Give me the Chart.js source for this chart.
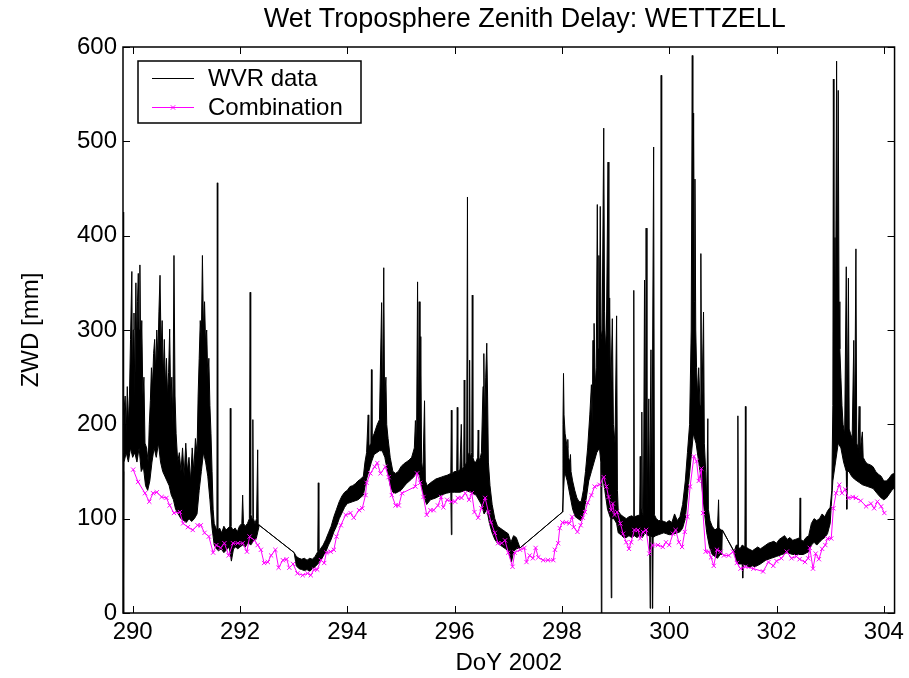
<!DOCTYPE html>
<html><head><meta charset="utf-8">
<script src="https://cdn.jsdelivr.net/npm/chart.js@4.4.1/dist/chart.umd.min.js"></script>
<style>html,body{margin:0;padding:0;background:#fff}canvas{display:block}</style>
</head><body>
<canvas id="c" width="909" height="678"></canvas>
<script>
const chartTitle = 'Wet Troposphere Zenith Delay: WETTZELL';
const xAxisLabel = 'DoY 2002';
const yAxisLabel = 'ZWD [mm]';
const seriesNames = ['WVR data', 'Combination'];
const xTicks = [290, 292, 294, 296, 298, 300, 302, 304];
const yTicks = [0, 100, 200, 300, 400, 500, 600];
const xRange = [289.82, 304.2];
const yRange = [0, 600];

// WVR data: upper edge of the noisy band (with spikes), [day, mm]
const wvrUpper = [
[289.820,170],[289.828,425],[289.836,210],[289.860,230],[289.880,190],[289.900,240],[289.920,200],[289.940,230],[289.960,290],[289.985,362],[289.995,250],[290.010,300],[290.025,318],[290.040,230],[290.060,350],[290.075,280],[290.090,330],[290.105,360],[290.120,300],[290.135,369],[290.150,270],[290.170,310],[290.190,230],[290.210,250],[290.230,180],[290.260,175],[290.290,160],[290.310,200],[290.330,225],[290.350,260],[290.370,240],[290.390,275],[290.410,290],[290.430,255],[290.450,300],[290.470,270],[290.490,320],[290.510,358],[290.530,280],[290.550,310],[290.570,250],[290.590,290],[290.610,240],[290.630,270],[290.650,230],[290.670,255],[290.690,301],[290.710,220],[290.730,250],[290.750,200],[290.770,379],[290.790,230],[290.810,190],[290.840,160],[290.870,170],[290.900,150],[290.930,175],[290.960,145],[290.990,180],[291.020,150],[291.050,165],[291.080,140],[291.110,175],[291.140,150],[291.170,185],[291.200,170],[291.220,230],[291.240,270],[291.260,310],[291.280,290],[291.300,379],[291.320,300],[291.340,330],[291.360,285],[291.380,300],[291.400,250],[291.420,270],[291.440,220],[291.460,190],[291.480,150],[291.500,110],[291.520,95],[291.550,90],[291.570,88],[291.578,456],[291.586,88],[291.620,90],[291.660,85],[291.700,92],[291.740,88],[291.780,90],[291.810,92],[291.820,217],[291.830,92],[291.870,88],[291.910,90],[291.950,86],[291.990,92],[292.035,95],[292.050,125],[292.065,95],[292.100,92],[292.140,95],[292.175,100],[292.190,340],[292.200,105],[292.225,100],[292.240,205],[292.250,100],[292.280,95],[292.310,100],[292.330,173],[292.340,95],[292.360,93],
[293.010,64],[293.050,60],[293.100,58],[293.150,57],[293.200,58],[293.250,56],[293.300,58],[293.350,57],[293.400,60],[293.450,65],[293.460,138],[293.470,65],[293.500,68],[293.550,72],[293.600,78],[293.650,85],[293.700,92],[293.750,102],[293.800,110],[293.850,118],[293.900,124],[293.950,128],[294.000,130],[294.050,134],[294.100,135],[294.150,137],[294.200,140],[294.250,142],[294.300,145],[294.330,160],[294.360,170],[294.390,210],[294.400,175],[294.440,180],[294.450,258],[294.460,185],[294.500,190],[294.530,195],[294.560,200],[294.600,205],[294.640,329],[294.655,215],[294.680,366],[294.695,225],[294.720,250],[294.735,200],[294.760,185],[294.800,165],[294.850,150],[294.900,148],[294.950,150],[295.000,155],[295.050,158],[295.100,160],[295.150,162],[295.200,165],[295.250,175],[295.270,204],[295.290,170],[295.310,351],[295.325,180],[295.340,330],[295.355,170],[295.370,293],[295.385,160],[295.410,150],[295.440,225],[295.455,140],[295.490,135],[295.550,138],[295.600,140],[295.650,142],[295.700,143],[295.750,144],[295.800,145],[295.860,146],[295.930,148],[295.940,215],[295.950,148],[296.000,150],[296.040,150],[296.050,218],[296.060,150],[296.100,152],[296.125,200],[296.140,152],[296.170,155],[296.180,247],[296.190,155],[296.225,160],[296.240,441],[296.250,165],[296.270,170],[296.280,268],[296.290,165],[296.320,170],[296.330,337],[296.340,165],[296.370,160],[296.400,160],[296.430,165],[296.440,194],[296.450,160],[296.480,165],[296.500,170],[296.530,240],[296.545,275],[296.560,200],[296.580,250],[296.600,286],[296.615,230],[296.630,160],[296.660,135],[296.700,115],[296.750,100],[296.800,92],[296.850,90],[296.900,88],[296.950,86],[297.000,84],[297.050,75],[297.100,82],[297.150,80],[297.220,69],
[298.010,107],[298.020,200],[298.030,254],[298.040,210],[298.060,190],[298.100,175],[298.110,184],[298.120,165],[298.150,160],[298.160,168],[298.170,150],[298.200,140],[298.240,130],[298.280,122],[298.320,118],[298.360,118],[298.400,130],[298.440,150],[298.480,175],[298.520,210],[298.550,242],[298.565,200],[298.580,289],[298.590,220],[298.600,307],[298.620,240],[298.640,260],[298.660,433],[298.675,280],[298.690,379],[298.700,300],[298.715,431],[298.730,290],[298.750,300],[298.780,514],[298.795,320],[298.810,280],[298.830,300],[298.860,478],[298.875,250],[298.890,334],[298.910,230],[298.940,312],[298.960,200],[298.990,180],[299.020,315],[299.035,130],[299.050,108],[299.100,104],[299.150,102],[299.200,100],[299.250,102],[299.300,103],[299.330,102],[299.340,342],[299.350,102],[299.400,103],[299.450,104],[299.460,166],[299.470,104],[299.480,110],[299.490,213],[299.500,106],[299.520,103],[299.540,353],[299.555,106],[299.570,408],[299.585,106],[299.620,227],[299.635,102],[299.660,279],[299.675,102],[299.710,494],[299.725,104],[299.760,100],[299.800,98],[299.840,98],[299.850,570],[299.860,98],[299.900,97],[299.950,96],[300.000,98],[300.050,96],[300.100,105],[300.150,98],[300.200,102],[300.250,115],[300.300,140],[300.340,170],[300.380,200],[300.410,300],[300.430,591],[300.440,350],[300.455,530],[300.470,330],[300.480,460],[300.495,300],[300.510,260],[300.530,230],[300.550,260],[300.575,220],[300.590,381],[300.605,210],[300.640,319],[300.655,180],[300.680,150],[300.700,120],[300.720,206],[300.730,110],[300.760,98],[300.800,92],[300.850,88],[300.900,90],[300.920,120],[300.930,90],[300.970,88],[300.990,88],
[301.210,65],[301.250,72],[301.270,72],[301.280,209],[301.290,70],[301.320,68],[301.360,72],[301.410,70],[301.420,219],[301.430,70],[301.480,68],[301.550,66],[301.600,68],[301.650,70],[301.700,68],[301.750,70],[301.800,72],[301.850,74],[301.900,75],[301.950,76],[302.000,74],[302.050,78],[302.100,80],[302.150,82],[302.200,78],[302.250,80],[302.300,77],[302.350,78],[302.400,79],[302.430,80],[302.440,122],[302.450,78],[302.500,76],[302.550,80],[302.600,82],[302.650,95],[302.700,100],[302.750,98],[302.800,100],[302.850,105],[302.900,102],[302.950,108],[303.000,112],[303.030,130],[303.050,220],[303.060,566],[303.070,300],[303.090,398],[303.100,300],[303.120,585],[303.135,350],[303.150,554],[303.165,330],[303.180,280],[303.200,250],[303.220,220],[303.240,200],[303.270,190],[303.300,367],[303.315,195],[303.340,355],[303.355,195],[303.380,190],[303.410,185],[303.440,289],[303.455,185],[303.480,386],[303.495,180],[303.520,175],[303.540,219],[303.555,170],[303.600,192],[303.615,165],[303.660,160],[303.700,158],[303.750,157],[303.800,155],[303.850,150],[303.900,147],[303.950,145],[304.000,140],[304.050,140],[304.100,143],[304.150,147],[304.200,148]
];

// WVR data: lower edge of the noisy band (with downward spikes), [day, mm]
const wvrLower = [
[289.820,150],[289.832,0],[289.840,160],[289.880,170],[289.920,160],[289.960,175],[290.000,165],[290.040,170],[290.080,160],[290.120,175],[290.160,150],[290.200,155],[290.240,135],[290.280,130],[290.320,140],[290.360,160],[290.400,175],[290.440,165],[290.480,180],[290.520,160],[290.560,150],[290.600,145],[290.640,140],[290.680,135],[290.720,125],[290.760,120],[290.800,110],[290.850,105],[290.900,100],[290.950,98],[291.000,96],[291.050,100],[291.100,97],[291.150,100],[291.200,105],[291.240,130],[291.280,150],[291.320,170],[291.360,160],[291.400,145],[291.440,120],[291.480,90],[291.520,72],[291.560,68],[291.600,66],[291.650,68],[291.700,64],[291.750,67],[291.800,70],[291.840,55],[291.880,68],[291.920,70],[291.960,68],[292.000,70],[292.050,72],[292.100,70],[292.150,75],[292.200,72],[292.250,76],[292.300,78],[292.360,93],
[293.010,64],[293.050,50],[293.100,47],[293.150,46],[293.200,45],[293.250,46],[293.300,44],[293.350,47],[293.400,49],[293.450,52],[293.500,55],[293.550,60],[293.600,65],[293.650,72],[293.700,78],[293.750,86],[293.800,92],[293.850,100],[293.900,106],[293.950,112],[294.000,116],[294.100,118],[294.200,120],[294.300,125],[294.350,140],[294.400,150],[294.450,160],[294.500,168],[294.550,170],[294.600,172],[294.650,172],[294.700,165],[294.750,150],[294.800,135],[294.850,128],[294.900,127],[295.000,130],[295.100,137],[295.200,142],[295.250,145],[295.300,150],[295.350,145],[295.400,130],[295.450,120],[295.480,115],[295.550,120],[295.650,122],[295.750,125],[295.850,127],[295.930,128],[295.940,83],[295.950,128],[296.000,128],[296.100,128],[296.200,130],[296.300,128],[296.400,125],[296.500,115],[296.550,105],[296.600,110],[296.650,95],[296.700,85],[296.750,78],[296.800,74],[296.850,72],[296.900,70],[296.950,68],[297.000,66],[297.060,54],[297.100,65],[297.150,68],[297.220,69],
[298.010,107],[298.050,150],[298.100,140],[298.150,125],[298.200,110],[298.250,102],[298.300,100],[298.350,98],[298.400,105],[298.450,120],[298.500,140],[298.550,150],[298.600,160],[298.650,170],[298.700,175],[298.725,160],[298.735,0],[298.745,150],[298.800,130],[298.850,110],[298.910,100],[298.920,16],[298.930,100],[298.970,100],[299.020,95],[299.050,85],[299.100,83],[299.150,80],[299.200,80],[299.250,82],[299.300,80],[299.350,82],[299.400,80],[299.450,82],[299.500,80],[299.550,85],[299.600,82],[299.635,82],[299.645,5],[299.655,82],[299.680,80],[299.690,5],[299.700,80],[299.750,82],[299.800,83],[299.850,84],[299.900,85],[299.950,84],[300.000,83],[300.100,84],[300.200,86],[300.250,90],[300.300,100],[300.350,130],[300.400,160],[300.450,190],[300.500,180],[300.550,160],[300.600,140],[300.650,110],[300.700,85],[300.750,70],[300.800,62],[300.850,60],[300.900,58],[300.950,62],[300.980,62],[300.990,88],
[301.210,65],[301.250,55],[301.300,52],[301.360,52],[301.370,37],[301.380,52],[301.450,50],[301.500,48],[301.550,50],[301.600,49],[301.700,52],[301.800,56],[301.900,58],[302.000,60],[302.100,62],[302.200,64],[302.300,62],[302.400,62],[302.500,62],[302.600,65],[302.650,72],[302.700,75],[302.750,72],[302.800,75],[302.850,78],[302.900,80],[302.950,84],[303.000,95],[303.050,140],[303.100,160],[303.150,180],[303.200,175],[303.250,160],[303.300,150],[303.310,110],[303.320,150],[303.350,150],[303.400,145],[303.450,142],[303.500,140],[303.550,138],[303.600,136],[303.700,134],[303.800,132],[303.900,125],[303.950,122],[304.000,120],[304.050,122],[304.100,126],[304.150,130],[304.200,133]
];

// Combination series, [day, mm]
const combination = [
[290.01,152],[290.10,139],[290.23,127],[290.31,118],[290.38,127],[290.45,128],[290.54,123],[290.63,122],[290.69,114],[290.77,106],[290.88,107],[290.94,95],[291.03,91],[291.12,88],[291.21,93],[291.27,93],[291.34,85],[291.42,81],[291.50,64],[291.56,72],[291.64,69],[291.71,74],[291.79,61],[291.87,74],[291.96,74],[292.05,74],[292.13,65],[292.18,81],[292.27,77],[292.33,72],[292.39,67],[292.45,53],[292.52,54],[292.58,61],[292.66,67],[292.72,48],[292.80,56],[292.87,57],[292.92,48],[292.99,52],[293.07,42],[293.17,40],[293.26,42],[293.32,40],[293.38,46],[293.44,46],[293.51,56],[293.57,53],[293.61,64],[293.69,65],[293.75,67],[293.80,81],[293.88,93],[293.97,104],[294.06,106],[294.12,101],[294.22,109],[294.28,111],[294.34,125],[294.36,138],[294.43,148],[294.51,155],[294.56,159],[294.62,148],[294.71,155],[294.77,144],[294.83,125],[294.90,114],[294.96,114],[295.02,127],[295.27,134],[295.30,148],[295.36,138],[295.42,123],[295.48,104],[295.55,109],[295.61,109],[295.69,114],[295.75,123],[295.79,112],[295.86,120],[295.94,118],[296.01,118],[296.06,122],[296.13,122],[296.20,127],[296.27,120],[296.32,127],[296.37,107],[296.44,101],[296.50,111],[296.57,122],[296.63,107],[296.68,96],[296.75,85],[296.81,74],[296.88,74],[296.94,77],[297.00,64],[297.08,49],[297.12,64],[297.22,67],[297.30,69],[297.34,54],[297.40,61],[297.46,58],[297.51,69],[297.56,59],[297.65,56],[297.74,56],[297.84,56],[297.87,67],[297.93,74],[297.96,90],[298.01,96],[298.08,96],[298.14,95],[298.19,102],[298.22,91],[298.29,86],[298.35,93],[298.39,101],[298.43,107],[298.48,117],[298.55,125],[298.61,134],[298.70,136],[298.78,144],[298.83,134],[298.87,123],[298.92,109],[298.95,116],[298.98,104],[299.03,107],[299.09,95],[299.14,84],[299.20,75],[299.25,68],[299.29,75],[299.35,88],[299.42,88],[299.46,79],[299.51,86],[299.57,88],[299.63,63],[299.69,72],[299.79,72],[299.88,70],[299.94,75],[300.00,72],[300.07,84],[300.12,88],[300.18,75],[300.24,70],[300.29,86],[300.34,102],[300.39,134],[300.46,166],[300.51,161],[300.55,140],[300.60,153],[300.63,106],[300.68,65],[300.74,65],[300.78,59],[300.83,50],[300.89,67],[300.96,65],[301.02,61],[301.11,61],[301.19,65],[301.26,53],[301.33,47],[301.42,49],[301.57,47],[301.75,44],[301.85,54],[301.94,50],[302.00,55],[302.09,58],[302.19,65],[302.28,58],[302.37,60],[302.43,57],[302.53,54],[302.59,58],[302.62,69],[302.68,47],[302.73,63],[302.79,57],[302.85,68],[302.91,72],[302.95,79],[303.02,79],[303.06,111],[303.11,127],[303.17,136],[303.22,127],[303.28,131],[303.34,122],[303.42,123],[303.48,122],[303.57,119],[303.67,113],[303.76,116],[303.82,111],[303.88,118],[303.95,113],[304.01,106]
];

const FONT = '"Liberation Sans", Arial, Helvetica, sans-serif';
const FS = 24;
const TITLE_FS = 27;
const MAGENTA = '#ff00ff';
const toXY = a => a.map(p => ({x: p[0], y: p[1]}));

const framePlugin = {
  id: 'frame',
  afterDatasetsDraw(chart) {
    const ctx = chart.ctx, ca = chart.chartArea;
    const xs = chart.scales.x, ys = chart.scales.y;
    ctx.save();
    ctx.strokeStyle = '#000';
    ctx.lineWidth = 1;
    const L = 7;
    ctx.beginPath();
    xTicks.forEach(v => {
      const px = Math.round(xs.getPixelForValue(v)) + 0.5;
      ctx.moveTo(px, ca.bottom); ctx.lineTo(px, ca.bottom - L);
      ctx.moveTo(px, ca.top); ctx.lineTo(px, ca.top + L);
    });
    yTicks.forEach(v => {
      const py = Math.round(ys.getPixelForValue(v)) + 0.5;
      ctx.moveTo(ca.left, py); ctx.lineTo(ca.left + L, py);
      ctx.moveTo(ca.right, py); ctx.lineTo(ca.right - L, py);
    });
    ctx.stroke();
    ctx.lineWidth = 1.5;
    ctx.strokeRect(ca.left, ca.top, ca.right - ca.left, ca.bottom - ca.top);
    ctx.restore();
  },
  afterDraw(chart) {
    const ctx = chart.ctx, ca = chart.chartArea;
    ctx.save();
    ctx.fillStyle = '#000';
    ctx.textBaseline = 'middle';
    ctx.textAlign = 'center';
    const cx = (ca.left + ca.right) / 2;
    ctx.font = TITLE_FS + 'px ' + FONT;
    ctx.fillText(chartTitle, cx + 16, 20);
    ctx.font = FS + 'px ' + FONT;
    ctx.fillText(xAxisLabel, cx, 663);
    ctx.save();
    ctx.translate(31, (ca.top + ca.bottom) / 2);
    ctx.rotate(-Math.PI / 2);
    ctx.fillText(yAxisLabel, 0, 0);
    ctx.restore();
    // legend
    const bx = ca.left + 15, by = ca.top + 14, bw = 223, bh = 62;
    ctx.fillStyle = '#fff';
    ctx.fillRect(bx, by, bw, bh);
    ctx.strokeStyle = '#000';
    ctx.lineWidth = 1.5;
    ctx.strokeRect(bx, by, bw, bh);
    ctx.lineWidth = 1;
    const y1 = by + 17, y2 = by + 46;
    ctx.strokeStyle = '#000';
    ctx.beginPath(); ctx.moveTo(bx + 14, y1 + 0.5); ctx.lineTo(bx + 56, y1 + 0.5); ctx.stroke();
    ctx.strokeStyle = MAGENTA;
    ctx.beginPath(); ctx.moveTo(bx + 14, y2 + 0.5); ctx.lineTo(bx + 56, y2 + 0.5); ctx.stroke();
    const mx = bx + 35, my = y2 + 0.5, r = 2.2;
    ctx.beginPath(); ctx.moveTo(mx - r, my - r); ctx.lineTo(mx + r, my + r);
    ctx.moveTo(mx - r, my + r); ctx.lineTo(mx + r, my - r); ctx.stroke();
    ctx.fillStyle = '#000';
    ctx.textAlign = 'left';
    ctx.fillText(seriesNames[0], bx + 70, y1 + 1);
    ctx.fillText(seriesNames[1], bx + 70, y2 + 1);
    ctx.restore();
  }
};

new Chart(document.getElementById('c'), {
  type: 'line',
  data: {
    datasets: [
      {label: seriesNames[1], data: toXY(combination), borderColor: MAGENTA, backgroundColor: MAGENTA,
       borderWidth: 1, pointStyle: 'crossRot', pointRadius: 3, pointBorderWidth: 1,
       pointBorderColor: MAGENTA, fill: false, tension: 0},
      {label: seriesNames[0], data: toXY(wvrUpper), borderColor: '#000', backgroundColor: '#000',
       borderWidth: 1, pointRadius: 0, fill: 2, tension: 0},
      {label: seriesNames[0] + ' (lower)', data: toXY(wvrLower), borderColor: '#000', backgroundColor: '#000',
       borderWidth: 1, pointRadius: 0, fill: false, tension: 0}
    ]
  },
  options: {
    responsive: false, animation: false, devicePixelRatio: 1,
    layout: {padding: {left: 0, right: 11, top: 47, bottom: 0}},
    plugins: {legend: {display: false}, title: {display: false}, tooltip: {enabled: false}},
    scales: {
      x: {type: 'linear', min: xRange[0], max: xRange[1],
          grid: {display: false, drawTicks: false}, border: {display: false},
          afterFit(s) { s.height = 65; },
          afterBuildTicks(s) { s.ticks = xTicks.map(v => ({value: v})); },
          ticks: {font: {family: FONT, size: FS}, color: '#000', padding: 5, maxRotation: 0, autoSkip: false}},
      y: {type: 'linear', min: yRange[0], max: yRange[1],
          grid: {display: false, drawTicks: false}, border: {display: false},
          afterFit(s) { s.width = 123; },
          afterBuildTicks(s) { s.ticks = yTicks.map(v => ({value: v})); },
          ticks: {font: {family: FONT, size: FS}, color: '#000', padding: 6, autoSkip: false}}
    }
  },
  plugins: [framePlugin]
});
</script>
</body></html>
